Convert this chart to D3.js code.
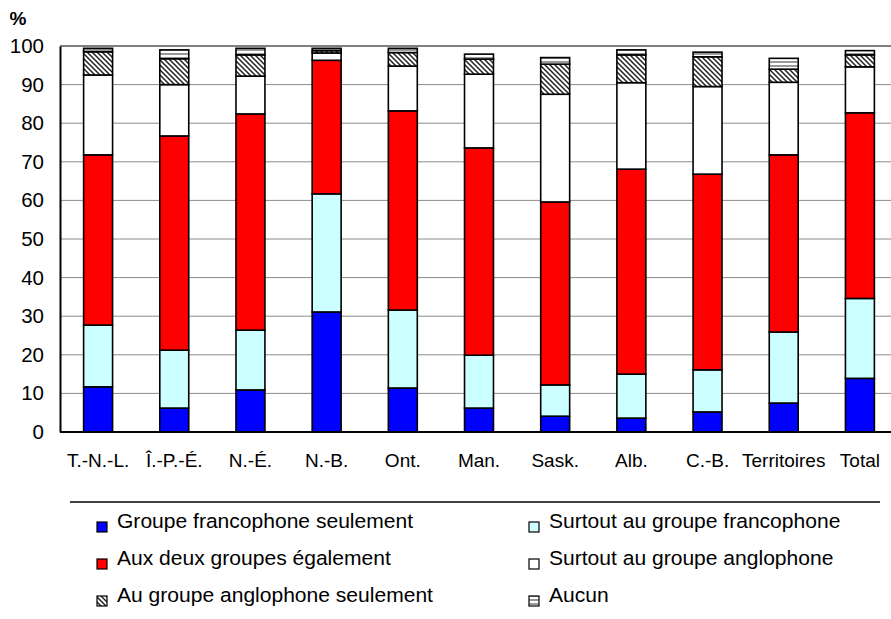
<!DOCTYPE html>
<html>
<head>
<meta charset="utf-8">
<script src="https://cdn.jsdelivr.net/npm/d3@7"></script>
<style>
  html, body { margin: 0; padding: 0; background: #fff; }
  svg { display: block; font-family: "Liberation Sans", Arial, sans-serif; }
</style>
</head>
<body>
<svg id="chart" width="891" height="619"></svg>
<script>
const categories = ["T.-N.-L.", "Î.-P.-É.", "N.-É.", "N.-B.", "Ont.", "Man.", "Sask.", "Alb.", "C.-B.", "Territoires", "Total"];
const groupeFrancoSeulement = [11.7, 6.2, 10.9, 31.1, 11.4, 6.2, 4.1, 3.6, 5.2, 7.5, 13.9];
const surtoutFranco        = [16.0, 15.0, 15.5, 30.6, 20.2, 13.7, 8.1, 11.4, 10.9, 18.4, 20.7];
const deuxGroupes          = [44.1, 55.5, 56.0, 34.6, 51.6, 53.7, 47.4, 53.1, 50.7, 45.9, 48.1];
const surtoutAnglo         = [20.7, 13.3, 9.8, 1.9, 11.6, 19.1, 27.9, 22.4, 22.7, 18.8, 11.9];
const angloSeulement       = [6.0, 6.7, 5.5, 0.6, 3.5, 3.9, 7.8, 7.2, 7.7, 3.4, 3.1];
const aucun                = [0.9, 2.3, 1.7, 0.6, 1.1, 1.3, 1.7, 1.3, 1.2, 2.8, 1.1];
const yTicks = [0, 10, 20, 30, 40, 50, 60, 70, 80, 90, 100];

const seriesKeys = ["gfs", "sgf", "deux", "sga", "gas", "aucun"];
const seriesLabels = {
  gfs: "Groupe francophone seulement",
  sgf: "Surtout au groupe francophone",
  deux: "Aux deux groupes également",
  sga: "Surtout au groupe anglophone",
  gas: "Au groupe anglophone seulement",
  aucun: "Aucun"
};
const seriesFill = {
  gfs: "#0000ff",
  sgf: "#ccffff",
  deux: "#ff0000",
  sga: "#ffffff",
  gas: "url(#hatch)",
  aucun: "url(#hlines)"
};

const table = categories.map((c, i) => ({
  cat: c,
  gfs: groupeFrancoSeulement[i],
  sgf: surtoutFranco[i],
  deux: deuxGroupes[i],
  sga: surtoutAnglo[i],
  gas: angloSeulement[i],
  aucun: aucun[i]
}));

const svg = d3.select("#chart");
const defs = svg.append("defs");
const hatch = defs.append("pattern").attr("id", "hatch")
  .attr("patternUnits", "userSpaceOnUse").attr("width", 5).attr("height", 5);
hatch.append("rect").attr("width", 5).attr("height", 5).attr("fill", "#fff");
hatch.append("path").attr("d", "M0,0 L5,5 M-1,4 L1,6 M4,-1 L6,1")
  .attr("stroke", "#222").attr("stroke-width", 1.5);
const hl = defs.append("pattern").attr("id", "hlines")
  .attr("patternUnits", "userSpaceOnUse").attr("width", 4).attr("height", 4);
hl.append("rect").attr("width", 4).attr("height", 4).attr("fill", "#fff");
hl.append("path").attr("d", "M0,2 L4,2").attr("stroke", "#555").attr("stroke-width", 1.2);

const plot = { left: 60, right: 898, top: 46, bottom: 432 };

const x = d3.scaleBand().domain(categories).range([plot.left, plot.right])
  .paddingInner(0.62).paddingOuter(0.31);
const y = d3.scaleLinear().domain([0, 100]).range([plot.bottom, plot.top]);

// gridlines
svg.append("g").selectAll("line").data(yTicks.filter(t => t > 0 && t < 100)).join("line")
  .attr("x1", plot.left).attr("x2", 891)
  .attr("y1", d => y(d)).attr("y2", d => y(d))
  .attr("stroke", "#8c8c8c").attr("stroke-width", 1);
// top border
svg.append("line").attr("x1", plot.left).attr("x2", 891)
  .attr("y1", y(100)).attr("y2", y(100))
  .attr("stroke", "#555").attr("stroke-width", 1.5);

// stacked bars
const stack = d3.stack().keys(seriesKeys);
const stacked = stack(table);
svg.append("g").selectAll("g").data(stacked).join("g")
  .attr("fill", d => seriesFill[d.key])
  .selectAll("rect").data(d => d).join("rect")
  .attr("x", d => x(d.data.cat))
  .attr("width", x.bandwidth())
  .attr("y", d => y(d[1]))
  .attr("height", d => y(d[0]) - y(d[1]))
  .attr("stroke", "#000").attr("stroke-width", 1.6);

// axes
const yAxis = d3.axisLeft(y).tickValues(yTicks).tickSize(0).tickPadding(16);
const gy = svg.append("g").attr("transform", `translate(${plot.left},0)`).call(yAxis);
gy.select(".domain").attr("stroke", "#000").attr("stroke-width", 2);
gy.selectAll("text").attr("font-size", 20.5).attr("fill", "#000")
  .attr("font-family", "Liberation Sans, Arial, sans-serif");

const xAxis = d3.axisBottom(x).tickSize(0).tickPadding(22);
const gx = svg.append("g").attr("transform", `translate(0,${plot.bottom})`).call(xAxis);
gx.select(".domain").attr("d", `M${plot.left},0H891`).attr("stroke", "#000").attr("stroke-width", 2);
gx.selectAll("text").attr("font-size", 19).attr("fill", "#000")
  .attr("font-family", "Liberation Sans, Arial, sans-serif");

svg.append("text").attr("x", 18).attr("y", 25).attr("text-anchor", "middle")
  .attr("font-size", 19).attr("font-weight", "bold").text("%");

// legend
svg.append("line").attr("x1", 70).attr("x2", 880).attr("y1", 502).attr("y2", 502)
  .attr("stroke", "#000").attr("stroke-width", 1.5);
const legendOrder = ["gfs", "sgf", "deux", "sga", "gas", "aucun"];
const colX = [97, 529];
const rowY = [528, 565, 602];
const lg = svg.append("g").selectAll("g").data(legendOrder).join("g")
  .attr("transform", (d, i) => `translate(${colX[i % 2]},${rowY[Math.floor(i / 2)]})`);
lg.append("rect").attr("x", 0).attr("y", -6).attr("width", 10).attr("height", 10)
  .attr("fill", d => seriesFill[d]).attr("stroke", "#000").attr("stroke-width", 1.2);
lg.append("text").attr("transform", "translate(20,0) scale(1.08,1)")
  .attr("font-size", 19.5).attr("fill", "#000")
  .text(d => seriesLabels[d]);
</script>
</body>
</html>
